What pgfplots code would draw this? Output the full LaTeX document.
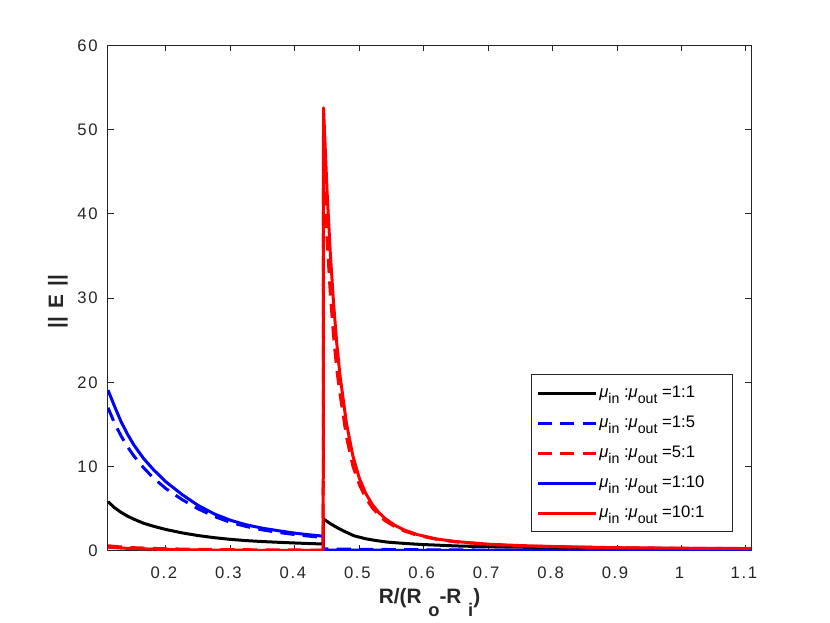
\documentclass[border=0pt]{standalone}
\usepackage{fontspec}
\setmainfont{Liberation Sans}
\newfontfamily\tickfont{Liberation Sans}[LetterSpace=10]
\usepackage{pgfplots}
\pgfplotsset{compat=1.18}
\definecolor{axgray}{gray}{0.15}
\newcommand\sub[1]{\raisebox{-3.8pt}{\fontsize{8.5}{10}\selectfont #1}}
\newcommand\leg[1]{\makebox[76pt][l]{\textit{μ}\sub{in} :\textit{μ}\sub{out} =#1}}
\begin{document}
\begin{tikzpicture}
\useasboundingbox (-64.8pt,-43.2pt) rectangle (433.2pt,330.6pt);
\begin{axis}[
 at={(0,0)}, anchor=south west,
 scale only axis, width=385.8pt, height=303.3pt,
 xmin=0.11, xmax=1.108, ymin=0, ymax=60,
 xtick={0.2,0.3,0.4,0.5,0.6,0.7,0.8,0.9,1,1.1},
 xticklabels={0.2,0.3,0.4,0.5,0.6,0.7,0.8,0.9,1,1.1},
 ytick={0,10,20,30,40,50,60}, yticklabels={0,10,20,30,40,50,60},
 tick align=inside, major tick length=3.6pt,
 axis line style={axgray, line width=0.6pt},
 every tick/.style={axgray, line width=0.6pt},
 tick label style={font=\tickfont\fontsize{10}{12}\selectfont, text=axgray},
 xticklabel style={yshift=-6pt, xshift=-1.2pt},
 yticklabel style={xshift=-2.7pt},
 xlabel={R/(R\hspace{4pt}\raisebox{-8pt}{\fontsize{11}{12}\selectfont\bfseries o}-R\hspace{4pt}\raisebox{-8pt}{\fontsize{11}{12}\selectfont\bfseries i})},
 ylabel={||\hspace{5pt}E\hspace{5pt}||},
 label style={font=\fontsize{12.5}{14}\selectfont\bfseries, text=axgray},
 xlabel style={at={(axis description cs:0.5,-0.1029)}, anchor=base},
 ylabel style={at={(axis description cs:-0.078,0.4936)}, anchor=center},
 legend style={at={(rel axis cs:0.972,0.0376)}, anchor=south east, draw=axgray, line width=0.5pt, fill=white,
   inner xsep=3pt, inner ysep=3pt, row sep=2pt, font=\fontsize{10}{12}\selectfont,
   nodes={inner sep=1pt, text height=9.5pt, text depth=4.5pt}},
 legend cell align=left,
 legend image code/.code={\draw[#1] (0pt,0pt) -- (35pt,0pt);},
 every axis plot/.append style={line width=1.8pt, line join=round},
]
\addplot[black] coordinates {(0.11,5.86)(0.12,5.15)(0.13,4.6)(0.14,4.15)(0.15,3.78)(0.165,3.3)(0.18,2.95)(0.2,2.55)(0.225,2.15)(0.25,1.83)(0.275,1.58)(0.3,1.38)(0.325,1.23)(0.35,1.12)(0.375,1.03)(0.4,0.95)(0.42,0.89)(0.444,0.83)(0.4445,3.8)(0.455,3.25)(0.466,2.76)(0.475,2.4)(0.492,1.8)(0.51,1.45)(0.525,1.25)(0.544,1.05)(0.57,0.9)(0.595,0.78)(0.65,0.6)(0.7,0.5)(0.75,0.45)(0.8,0.4)(0.9,0.33)(1.0,0.29)(1.108,0.25)};
\addlegendentry{\leg{1:1}}
\addplot[blue, dash pattern=on 8.5pt off 5pt] coordinates {(0.11,17.0)(0.12,15.2)(0.13,13.7)(0.14,12.4)(0.15,11.3)(0.165,9.9)(0.18,8.7)(0.2,7.4)(0.225,6.1)(0.25,5.0)(0.275,4.1)(0.3,3.4)(0.325,2.9)(0.35,2.5)(0.375,2.2)(0.4,1.95)(0.42,1.78)(0.444,1.6)(0.4445,0.25)(0.5,0.2)(0.6,0.15)(0.7,0.11)(0.8,0.09)(0.9,0.07)(1.0,0.06)(1.108,0.05)};
\addlegendentry{\leg{1:5}}
\addplot[red, dash pattern=on 8.5pt off 5pt] coordinates {(0.11,0.62)(0.13,0.48)(0.15,0.39)(0.2,0.26)(0.25,0.2)(0.3,0.16)(0.35,0.14)(0.4,0.12)(0.444,0.11)(0.4445,46.0)(0.45,37.0)(0.455,30.6)(0.46,25.6)(0.465,21.6)(0.47,18.7)(0.48,13.6)(0.49,10.1)(0.5,7.9)(0.51,6.3)(0.52,5.15)(0.53,4.28)(0.54,3.6)(0.555,2.9)(0.57,2.37)(0.59,1.87)(0.62,1.38)(0.65,1.08)(0.7,0.78)(0.75,0.62)(0.8,0.51)(0.9,0.38)(1.0,0.32)(1.108,0.28)};
\addlegendentry{\leg{5:1}}
\addplot[blue] coordinates {(0.11,19.1)(0.12,17.2)(0.13,15.4)(0.14,13.9)(0.15,12.6)(0.165,11.0)(0.18,9.7)(0.2,8.2)(0.225,6.7)(0.25,5.4)(0.275,4.4)(0.3,3.65)(0.325,3.1)(0.35,2.7)(0.375,2.4)(0.4,2.12)(0.42,1.94)(0.444,1.76)(0.4445,0.12)(0.5,0.1)(0.6,0.07)(0.7,0.05)(0.8,0.04)(0.9,0.03)(1.0,0.03)(1.108,0.02)};
\addlegendentry{\leg{1:10}}
\addplot[red] coordinates {(0.11,0.45)(0.13,0.35)(0.15,0.28)(0.2,0.18)(0.25,0.13)(0.3,0.1)(0.35,0.08)(0.4,0.07)(0.444,0.06)(0.4445,52.6)(0.45,42.7)(0.455,35.4)(0.46,29.5)(0.465,24.7)(0.47,20.9)(0.48,15.2)(0.49,11.3)(0.5,8.65)(0.51,6.84)(0.52,5.55)(0.53,4.59)(0.54,3.86)(0.555,3.06)(0.57,2.49)(0.59,1.95)(0.62,1.43)(0.65,1.12)(0.7,0.81)(0.75,0.64)(0.8,0.53)(0.9,0.39)(1.0,0.33)(1.108,0.29)};
\addlegendentry{\leg{10:1}}
\end{axis}
\end{tikzpicture}
\end{document}
